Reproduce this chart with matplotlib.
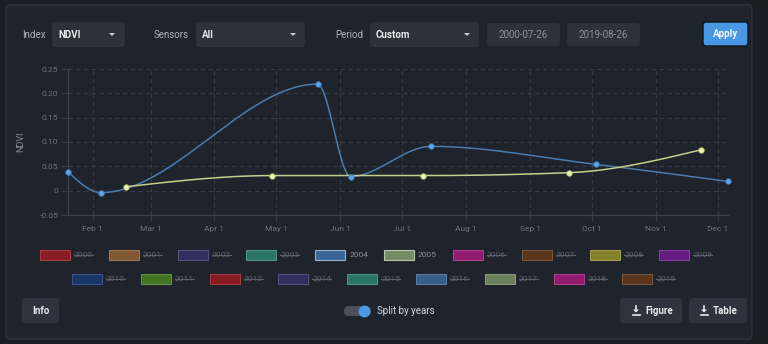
#!/usr/bin/env python3
import numpy as np
import matplotlib
matplotlib.use("Agg")
import matplotlib.pyplot as plt
import matplotlib.dates as mdates
from matplotlib.colors import to_rgb
from matplotlib.patches import FancyBboxPatch, Rectangle, Polygon
from datetime import date

# ---- data (day-of-year view, "split by years") ----
dates_2004 = ['2001-01-20', '2001-02-05', '2001-05-21', '2001-06-06',
              '2001-07-15', '2001-10-03', '2001-12-06']
ndvi_2004 = [0.039, -0.004, 0.219, 0.029, 0.091, 0.054, 0.019]

dates_2005 = ['2001-02-17', '2001-04-29', '2001-07-11', '2001-09-20', '2001-11-23']
ndvi_2005 = [0.008, 0.031, 0.031, 0.037, 0.084]

legend_row1 = ['2000', '2001', '2002', '2003', '2004', '2005', '2006', '2007', '2008', '2009']
legend_row2 = ['2010', '2011', '2012', '2014', '2015', '2016', '2017', '2018', '2019']
colors_row1 = ['#a51c22', '#9a6634', '#38336c', '#2f8a77', '#3e6ea6',
               '#7f9868', '#ae1a80', '#6a3a16', '#a09a2c', '#781a98']
colors_row2 = ['#163a78', '#4a8a22', '#a3191f', '#38336c', '#2f8a77',
               '#3e6ea6', '#7f9868', '#ae1a80', '#6a3a16']
active_years = ['2004', '2005']

BG = '#1f232b'
BOX = '#2c313a'
GRID = '#363b46'
TXT = '#6e747d'

plt.rcParams['font.family'] = ['Roboto', 'DejaVu Sans']

W, H = 768, 344
fig = plt.figure(figsize=(W / 100, H / 100), dpi=100, facecolor='#1a1d23')

# background overlay axes in pixel coords
bg = fig.add_axes([0, 0, 1, 1])
bg.set_xlim(0, W)
bg.set_ylim(H, 0)
bg.axis('off')

bg.add_patch(FancyBboxPatch((6, 5), 746, 334, boxstyle='round,pad=0,rounding_size=4',
                            fc=BG, ec='#2b3039', lw=1.2))


def box(x0, x1, y0, y1, fc=BOX, ec='none'):
    bg.add_patch(FancyBboxPatch((x0, y0), x1 - x0, y1 - y0,
                                boxstyle='round,pad=0,rounding_size=3',
                                fc=fc, ec=ec, lw=1))


def caret(x, y):
    bg.add_patch(Polygon([[x - 3, y - 1.5], [x + 3, y - 1.5], [x, y + 1.5]],
                         closed=True, fc='#c9ccd1', ec='none'))


# top controls
bg.text(22, 34.5, 'Index', color='#aeb2b9', fontsize=7, va='center')
box(52, 125, 22, 47)
bg.text(58, 34.5, 'NDVI', color='#e6e8eb', fontsize=7, fontweight='bold', va='center')
caret(112, 34.5)

bg.text(154, 34.5, 'Sensors', color='#aeb2b9', fontsize=7, va='center')
box(196, 305, 22, 47)
bg.text(202, 34.5, 'All', color='#e6e8eb', fontsize=7, fontweight='bold', va='center')
caret(293, 34.5)

bg.text(335, 34.5, 'Period', color='#aeb2b9', fontsize=7, va='center')
box(370, 479, 22, 47)
bg.text(376, 34.5, 'Custom', color='#e6e8eb', fontsize=7, fontweight='bold', va='center')
caret(467, 34.5)

box(487, 560, 23, 46)
bg.text(523.5, 34.5, '2000-07-26', color='#8e949c', fontsize=7, va='center', ha='center')
box(567, 640, 23, 46)
bg.text(603.5, 34.5, '2019-08-26', color='#8e949c', fontsize=7, va='center', ha='center')

box(703, 748, 22, 46, fc='#4797e4', ec='#10141a')
bg.text(725.5, 34, 'Apply', color='#f4f7fb', fontsize=7, fontweight='bold',
        va='center', ha='center')


# legend
def lighter(c, f=0.35):
    r, g, b = to_rgb(c)
    return (r + (1 - r) * f, g + (1 - g) * f, b + (1 - b) * f)


def legend_row(labels, cols, x_start, cy):
    for i, (lab, c) in enumerate(zip(labels, cols)):
        sx = x_start + i * 68.8
        on = lab in active_years
        bg.add_patch(Rectangle((sx, cy - 5), 30, 10, fc=c,
                               ec=lighter(c, 0.55 if on else 0.2), lw=0.8,
                               alpha=0.9 if on else 0.8))
        tc = '#8c929a' if on else '#5a6069'
        bg.text(sx + 34, cy, lab, color=tc, fontsize=6, va='center')
        if not on:
            bg.plot([sx + 34, sx + 53], [cy, cy], color='#5a6069', lw=0.8)


legend_row(legend_row1, colors_row1, 40, 255)
legend_row(legend_row2, colors_row2, 72, 279)

# bottom controls
box(22, 59, 298, 323, fc='#2e343d')
bg.text(40.5, 310.5, 'Info', color='#e6e8eb', fontsize=7, fontweight='bold',
        va='center', ha='center')

bg.add_patch(FancyBboxPatch((344, 306), 27, 10, boxstyle='round,pad=0,rounding_size=5',
                            fc='#4b5059', ec='none'))
bg.plot([364], [311], 'o', ms=7.5, color='#4a9be6')
bg.text(377, 311, 'Split by years', color='#d5d8dc', fontsize=7, va='center')


def download_icon(x, y):
    bg.plot([x, x], [y - 4, y + 1], color='#e6e8eb', lw=1.2)
    bg.add_patch(Polygon([[x - 3, y], [x + 3, y], [x, y + 3]], closed=True,
                         fc='#e6e8eb', ec='none'))
    bg.plot([x - 3.5, x + 3.5], [y + 5, y + 5], color='#e6e8eb', lw=1.2)


box(620, 682, 298, 323, fc='#2e343d')
download_icon(636, 309.5)
bg.text(645, 311, 'Figure', color='#e6e8eb', fontsize=7, fontweight='bold', va='center')
box(689, 747, 298, 323, fc='#2e343d')
download_icon(704, 309.5)
bg.text(713, 311, 'Table', color='#e6e8eb', fontsize=7, fontweight='bold', va='center')


# ---- chart ----
def monotone(xs, ys, n=40):
    # d3-style monotone-x cubic through the points
    xs = np.asarray(xs, float)
    ys = np.asarray(ys, float)
    h = np.diff(xs)
    s = np.diff(ys) / h
    m = np.zeros_like(ys)
    for k in range(1, len(xs) - 1):
        p = (s[k - 1] * h[k] + s[k] * h[k - 1]) / (h[k - 1] + h[k])
        m[k] = (np.sign(s[k - 1]) + np.sign(s[k])) * min(abs(s[k - 1]), abs(s[k]), 0.5 * abs(p))
    m[0] = (3 * s[0] - m[1]) / 2
    m[-1] = (3 * s[-1] - m[-2]) / 2
    X, Y = [], []
    for k in range(len(xs) - 1):
        t = np.linspace(0, 1, n)
        h00 = 2 * t**3 - 3 * t**2 + 1
        h10 = t**3 - 2 * t**2 + t
        h01 = -2 * t**3 + 3 * t**2
        h11 = t**3 - t**2
        X.append(xs[k] + t * h[k])
        Y.append(h00 * ys[k] + h10 * h[k] * m[k] + h01 * ys[k + 1] + h11 * h[k] * m[k + 1])
    return np.concatenate(X), np.concatenate(Y)


x04 = mdates.date2num([date.fromisoformat(d) for d in dates_2004])
x05 = mdates.date2num([date.fromisoformat(d) for d in dates_2005])

ax = fig.add_axes([68 / W, 1 - 215 / H, 660 / W, 146 / H])
ax.set_facecolor('none')

cx, cy = monotone(x04, ndvi_2004)
ax.plot(cx, cy, color='#4a7cb0', lw=1.1, zorder=3)
cx, cy = monotone(x05, ndvi_2005)
ax.plot(cx, cy, color='#c3d08c', lw=1.1, zorder=3)
ax.plot(x04, ndvi_2004, 'o', ms=4, mfc='#5aa6ea', mec='#3c78b4', mew=0.6, zorder=4,
        clip_on=False)
ax.plot(x05, ndvi_2005, 'o', ms=4, mfc='#eef4b4', mec='#a8b46c', mew=0.6, zorder=4,
        clip_on=False)

ax.set_xlim(x04[0], x04[-1])
ax.set_ylim(-0.05, 0.25)
ax.set_yticks(np.arange(-0.05, 0.26, 0.05))
ax.set_yticklabels(['-0.05', '0', '0.05', '0.10', '0.15', '0.20', '0.25'])
ax.xaxis.set_major_locator(mdates.MonthLocator(bymonthday=1))
ax.xaxis.set_major_formatter(mdates.DateFormatter('%b 1'))

ax.grid(True, color=GRID, ls=(0, (4, 3)), lw=0.8)
for sp in ['top', 'right']:
    ax.spines[sp].set_visible(False)
for sp in ['left', 'bottom']:
    ax.spines[sp].set_color('#3c414b')
    ax.spines[sp].set_linewidth(0.9)
ax.tick_params(axis='both', colors=GRID, labelcolor=TXT, labelsize=6)
ax.tick_params(axis='x', length=4, pad=4)
ax.tick_params(axis='y', length=5, pad=2)
ax.set_ylabel('NDVI', color='#8a9098', fontsize=6.5, labelpad=10)

fig.savefig('out.png', dpi=100, facecolor=fig.get_facecolor())
